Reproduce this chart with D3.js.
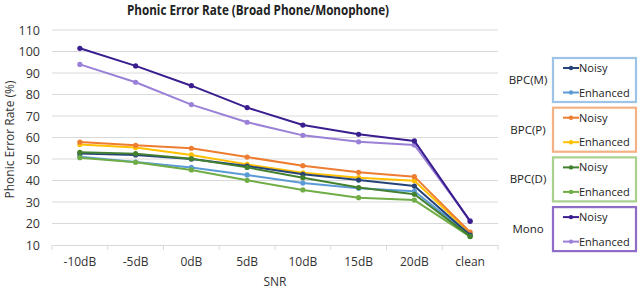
<!DOCTYPE html>
<html>
<head>
<meta charset="utf-8">
<script src="https://cdn.jsdelivr.net/npm/d3@7"></script>
<style>
  body { margin: 0; background: #fff; }
  svg { font-family: "Open Sans", "Noto Sans", sans-serif; }
</style>
</head>
<body>
<svg id="chart" width="640" height="289"></svg>
<script>
const categories = ['-10dB', '-5dB', '0dB', '5dB', '10dB', '15dB', '20dB', 'clean'];
const yTicks = [10, 20, 30, 40, 50, 60, 70, 80, 90, 100, 110];

const bpcMNoisy    = [52.5, 51.9, 50.0, 46.7, 42.9, 40.2, 37.4, 14.6];
const bpcMEnhanced = [51.1, 48.6, 46.1, 42.6, 38.8, 36.4, 35.0, 14.5];
const bpcPNoisy    = [57.9, 56.4, 55.0, 50.9, 46.9, 43.8, 41.8, 16.0];
const bpcPEnhanced = [56.8, 55.3, 51.9, 47.5, 43.6, 41.3, 39.9, 15.6];
const bpcDNoisy    = [53.1, 52.5, 50.1, 46.1, 41.3, 36.7, 33.6, 14.0];
const bpcDEnhanced = [50.6, 48.5, 44.9, 40.1, 35.6, 32.0, 30.9, 13.9];
const monoNoisy    = [101.5, 93.3, 84.1, 73.9, 65.8, 61.5, 58.4, 21.0];
const monoEnhanced = [94.0, 85.7, 75.3, 67.1, 61.0, 58.0, 56.5, 21.3];

// legend groups, drawn top to bottom
const groups = [
  { name: 'BPC(M)', border: '#9dc3e6', series: [
    { label: 'Noisy', color: '#264478', values: bpcMNoisy },
    { label: 'Enhanced', color: '#5b9bd5', values: bpcMEnhanced }] },
  { name: 'BPC(P)', border: '#f4b183', series: [
    { label: 'Noisy', color: '#ed7d31', values: bpcPNoisy },
    { label: 'Enhanced', color: '#ffc000', values: bpcPEnhanced }] },
  { name: 'BPC(D)', border: '#a9d18e', series: [
    { label: 'Noisy', color: '#43802f', values: bpcDNoisy },
    { label: 'Enhanced', color: '#70ad47', values: bpcDEnhanced }] },
  { name: 'Mono', border: '#8e6cc8', series: [
    { label: 'Noisy', color: '#3a1e8f', values: monoNoisy },
    { label: 'Enhanced', color: '#9a80d6', values: monoEnhanced }] }
];

const svg = d3.select('#chart');
const plot = { left: 52, right: 498, top: 30, bottom: 245 };

const x = d3.scaleBand().domain(categories).range([plot.left, plot.right]);
const y = d3.scaleLinear().domain([10, 110]).range([plot.bottom, plot.top]);

// title
svg.append('text')
  .attr('x', 258).attr('y', 15)
  .attr('text-anchor', 'middle')
  .attr('font-size', 14).attr('font-weight', 'bold')
  .attr('textLength', 262).attr('lengthAdjust', 'spacingAndGlyphs')
  .attr('fill', '#222')
  .text('Phonic Error Rate (Broad Phone/Monophone)');

// gridlines
svg.append('g')
  .selectAll('line')
  .data(yTicks.filter(d => d > 10))
  .enter().append('line')
  .attr('x1', plot.left).attr('x2', plot.right)
  .attr('y1', d => y(d)).attr('y2', d => y(d))
  .attr('stroke', '#d9d9d9').attr('stroke-width', 1);

// y axis labels
const yAxis = svg.append('g')
  .attr('transform', `translate(${plot.left},0)`)
  .call(d3.axisLeft(y).tickValues(yTicks).tickSize(0).tickPadding(12));
yAxis.select('.domain').remove();
yAxis.selectAll('text').attr('font-size', 12.5).attr('fill', '#333')
  .style('font-family', '"Open Sans", sans-serif');

// x axis
const xAxis = svg.append('g')
  .attr('transform', `translate(0,${plot.bottom})`)
  .call(d3.axisBottom(x).tickSize(0).tickPadding(12));
xAxis.select('.domain').attr('stroke', '#d9d9d9');
xAxis.selectAll('text').attr('font-size', 12).attr('fill', '#333')
  .style('font-family', '"Open Sans", sans-serif');
xAxis.selectAll('.boundary')
  .data(categories.concat(['end']))
  .enter().append('line')
  .attr('class', 'boundary')
  .attr('x1', (d, i) => plot.left + i * x.step())
  .attr('x2', (d, i) => plot.left + i * x.step())
  .attr('y1', 0).attr('y2', 5)
  .attr('stroke', '#d9d9d9');

// axis titles
svg.append('text')
  .attr('x', (plot.left + plot.right) / 2).attr('y', 283)
  .attr('dominant-baseline', 'middle')
  .attr('text-anchor', 'middle').attr('font-size', 12).attr('fill', '#333')
  .text('SNR');
svg.append('text')
  .attr('transform', `translate(14,${(plot.top + plot.bottom) / 2 + 2}) rotate(-90)`)
  .attr('text-anchor', 'middle').attr('font-size', 12).attr('fill', '#333')
  .text('Phonic Error Rate (%)');

// series lines
const line = d3.line()
  .x((d, i) => x(categories[i]) + x.bandwidth() / 2)
  .y(d => y(d));

const drawOrder = [groups[3], groups[1], groups[0], groups[2]];
drawOrder.forEach(g => {
  g.series.slice().reverse().forEach(s => {
    svg.append('path')
      .datum(s.values)
      .attr('fill', 'none')
      .attr('stroke', s.color)
      .attr('stroke-width', 2)
      .attr('stroke-linejoin', 'round')
      .attr('d', line);
    svg.append('g').selectAll('circle')
      .data(s.values)
      .enter().append('circle')
      .attr('cx', (d, i) => x(categories[i]) + x.bandwidth() / 2)
      .attr('cy', d => y(d))
      .attr('r', 2.6)
      .attr('fill', s.color);
  });
});

// legend
const legend = svg.append('g');
groups.forEach((g, gi) => {
  const top = 58 + gi * 49.7;
  const lg = legend.append('g').attr('transform', `translate(0,${top})`);
  lg.append('rect')
    .attr('x', 553).attr('y', 0)
    .attr('width', 83).attr('height', 44)
    .attr('fill', '#fff')
    .attr('stroke', g.border).attr('stroke-width', 2.2);
  lg.append('text')
    .attr('x', 528).attr('y', 26)
    .attr('text-anchor', 'middle').attr('font-size', 11.5).attr('fill', '#222')
    .text(g.name);
  g.series.forEach((s, si) => {
    const yy = 10 + si * 24.5;
    lg.append('line')
      .attr('x1', 563).attr('x2', 579)
      .attr('y1', yy).attr('y2', yy)
      .attr('stroke', s.color).attr('stroke-width', 2);
    lg.append('circle')
      .attr('cx', 571).attr('cy', yy).attr('r', 2.2).attr('fill', s.color);
    lg.append('text')
      .attr('x', 579).attr('y', yy + 4)
      .attr('font-size', 11).attr('fill', '#222')
      .text(s.label);
  });
});
</script>
</body>
</html>
